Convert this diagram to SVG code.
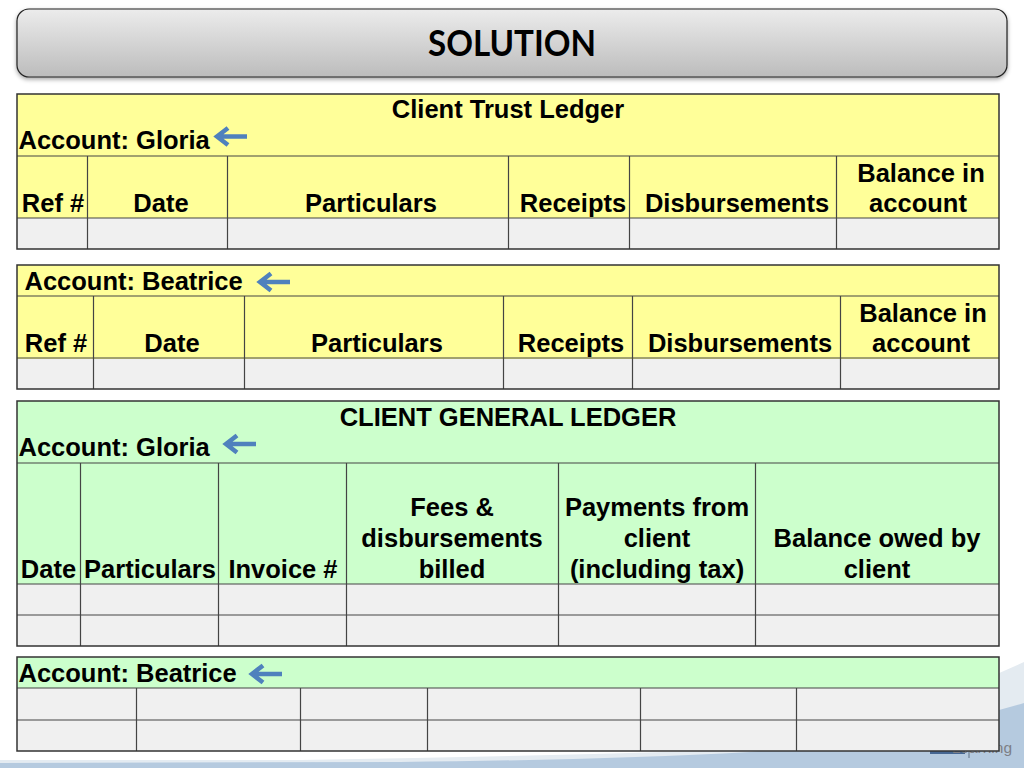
<svg xmlns="http://www.w3.org/2000/svg" width="1024" height="768" viewBox="0 0 1024 768">
<style>
text{font-family:"Liberation Sans",Arial,sans-serif;font-weight:700;font-size:25.5px;fill:#000}
.m{text-anchor:middle}
.b{fill:none;stroke:#333;stroke-width:1.5}
.g{stroke:#444;stroke-width:1.2;fill:none}
.y{fill:#ffff99}.n{fill:#ccffcc}.e{fill:#f0f0f0}
.ar{fill:none;stroke:#4f81bd;stroke-width:4.5}
</style>
<defs>
<linearGradient id="tg" x1="0" y1="0" x2="0" y2="1"><stop offset="0" stop-color="#ececec"/><stop offset="1" stop-color="#bcbcbc"/></linearGradient>
<filter id="sh" x="-2%" y="-10%" width="104%" height="125%"><feDropShadow dx="0" dy="2" stdDeviation="2" flood-color="#000" flood-opacity=".35"/></filter>
<g id="a"><path class="ar" d="M0 0H-29M-19 -8.500L-30 0L-19 8.500"/></g>
</defs>
<rect width="1024" height="768" fill="#fff"/>
<g id="background">
<path d="M0 760L300 760Q500 757 700 751Q880 730 1024 662V768H0Z" fill="#e4ebf1"/>
<path d="M0 763L400 762Q600 760 750 752Q900 740 1024 703V768H0Z" fill="#b5cadf"/>
<rect x="930" y="751" width="35" height="3" fill="#2a4d80" opacity=".8"/>
<path d="M969 745V758" stroke="#6d7f94" stroke-width="1.2"/>
<text x="1012" y="753" text-anchor="end" style="font-size:15.500px;font-weight:400;fill:#7d7f86">Learning</text>
</g>
<g id="title">
<rect x="17" y="9" width="990" height="68" rx="12" fill="url(#tg)" stroke="#222" stroke-width="1.2" filter="url(#sh)"/>
<text x="428" y="55.500" textLength="168" lengthAdjust="spacingAndGlyphs" style="font-family:Lato,sans-serif;font-weight:700;font-size:36px">SOLUTION</text>
</g>
<g id="trust-gloria">
<rect class="y" x="17" y="94" width="982" height="124"/><rect class="e" x="17" y="218" width="982" height="31"/>
<path class="g" d="M17 156H999M17 218H999M87.500 156V249M227.500 156V249M508.500 156V249M629.500 156V249M836.500 156V249"/>
<rect class="b" x="17" y="94" width="982" height="155"/>
<text x="508" y="118" class="m">Client Trust Ledger</text><text x="18.500" y="149">Account: Gloria</text>
<text x="53" y="212" class="m">Ref #</text><text x="161" y="212" class="m">Date</text><text x="371" y="212" class="m">Particulars</text><text x="573" y="212" class="m">Receipts</text><text x="737" y="212" class="m">Disbursements</text>
<text x="921" y="182" class="m">Balance in</text><text x="918" y="212" class="m">account</text>
</g>
<g id="trust-beatrice">
<rect class="y" x="17" y="265" width="982" height="94"/><rect class="e" x="17" y="359" width="982" height="30"/>
<path class="g" d="M17 296H999M17 358H999M93.500 296V389M244.500 296V389M503.500 296V389M632.500 296V389M840.500 296V389"/>
<rect class="b" x="17" y="265" width="982" height="124"/>
<text x="24.500" y="290">Account: Beatrice</text>
<text x="56" y="352" class="m">Ref #</text><text x="172" y="352" class="m">Date</text><text x="377" y="352" class="m">Particulars</text><text x="571" y="352" class="m">Receipts</text><text x="740" y="352" class="m">Disbursements</text>
<text x="923" y="322" class="m">Balance in</text><text x="921" y="352" class="m">account</text>
</g>
<g id="general-gloria">
<rect class="n" x="17" y="401" width="982" height="183"/><rect class="e" x="17" y="584" width="982" height="62"/>
<path class="g" d="M17 463H999M17 584H999M17 615H999M80.500 463V646M218.500 463V646M346.500 463V646M558.500 463V646M755.500 463V646"/>
<rect class="b" x="17" y="401" width="982" height="245"/>
<text x="508" y="426" class="m">CLIENT GENERAL LEDGER</text><text x="18.500" y="456">Account: Gloria</text>
<text x="48.500" y="578" class="m">Date</text><text x="150" y="578" class="m">Particulars</text><text x="283" y="578" class="m">Invoice #</text>
<text x="452" y="516" class="m">Fees &amp;</text><text x="452" y="547" class="m">disbursements</text><text x="452" y="578" class="m">billed</text>
<text x="657" y="516" class="m">Payments from</text><text x="657" y="547" class="m">client</text><text x="657" y="578" class="m">(including tax)</text>
<text x="877" y="547" class="m">Balance owed by</text><text x="877" y="578" class="m">client</text>
</g>
<g id="general-beatrice">
<rect class="n" x="17" y="657" width="982" height="31"/><rect class="e" x="17" y="688" width="982" height="63"/>
<path class="g" d="M17 688H999M17 720H999M136.500 688V751M300.500 688V751M427.500 688V751M640.500 688V751M796.500 688V751"/>
<rect class="b" x="17" y="657" width="982" height="94"/>
<text x="18.500" y="682">Account: Beatrice</text>
</g>
<g id="connectors">
<use href="#a" transform="translate(247,136.500)"/>
<use href="#a" transform="translate(290,282)"/>
<use href="#a" transform="translate(256,444)"/>
<use href="#a" transform="translate(282,674)"/>
</g>
</svg>
